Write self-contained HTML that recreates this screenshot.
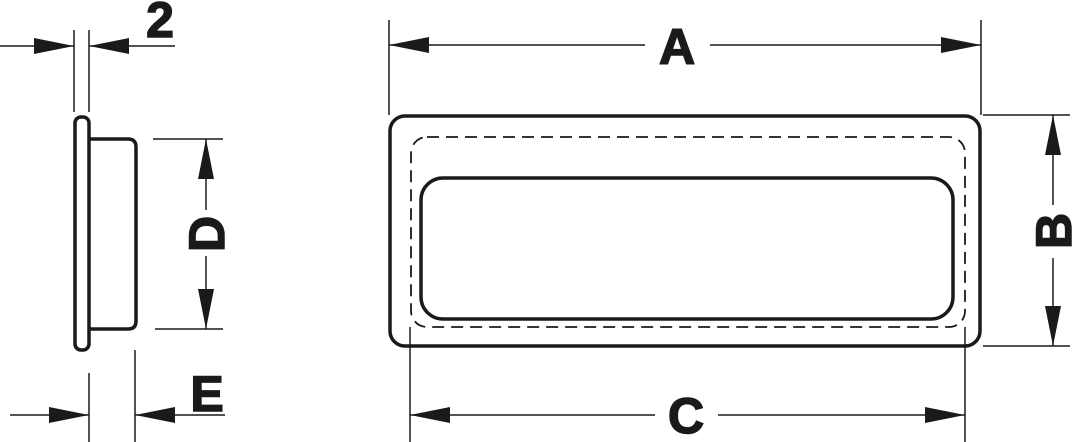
<!DOCTYPE html><html><head><style>body{margin:0;background:#fff}svg{display:block}</style></head><body>
<svg width="1075" height="442" viewBox="0 0 1075 442" xmlns="http://www.w3.org/2000/svg">
<defs><marker id="ar" refX="40" refY="8" markerWidth="40" markerHeight="16" markerUnits="userSpaceOnUse" orient="auto-start-reverse"><path d="M0,0L40,8L0,16z" fill="#1a1a1a"/></marker></defs>
<g fill="none" stroke="#1a1a1a">
<rect x="75" y="117" width="14" height="233" rx="6" stroke-width="3.5"/>
<path d="M89,139H128Q136,139 136,147V321Q136,329 128,329H89" stroke-width="3.5"/>
<g stroke-width="1.5">
<path d="M74,30V112M89,30V112"/>
<path d="M0,46H74" marker-end="url(#ar)"/><path d="M175,46H89" marker-end="url(#ar)"/>
<path d="M153,139H223M155,329H223"/>
<path d="M206,210V139" marker-end="url(#ar)"/><path d="M206,256V329" marker-end="url(#ar)"/>
<path d="M89,373V442M135,350V442"/>
<path d="M10,415H89" marker-end="url(#ar)"/><path d="M225,415H135" marker-end="url(#ar)"/>
<path d="M389,20V115M981,20V115"/>
<path d="M645,45H389" marker-end="url(#ar)"/><path d="M710,45H981" marker-end="url(#ar)"/>
<path d="M983,115H1070M983,346H1070"/>
<path d="M1053,205V115" marker-end="url(#ar)"/><path d="M1053,258V346" marker-end="url(#ar)"/>
<path d="M410,327V442M965,327V442"/>
<path d="M655,415H410" marker-end="url(#ar)"/><path d="M718,415H965" marker-end="url(#ar)"/>
</g>
<rect x="390" y="116" width="590" height="230" rx="15" stroke-width="3.5"/>
<rect x="411" y="137" width="554" height="190" rx="16" stroke-width="1.8" stroke-dasharray="12,7"/>
<rect x="421" y="178" width="532" height="141" rx="22" stroke-width="3.5"/>
</g>
<g font-family="Liberation Sans,sans-serif" font-weight="bold" font-size="50" fill="#1a1a1a" stroke="#1a1a1a" stroke-width="1.5" text-anchor="middle">
<text x="160" y="37">2</text>
<text x="207" y="411">E</text>
<text x="677" y="64">A</text>
<text x="686" y="433">C</text>
<text transform="translate(224,234) rotate(-90)">D</text>
<text transform="translate(1071,231) rotate(-90)">B</text>
</g>
</svg></body></html>
